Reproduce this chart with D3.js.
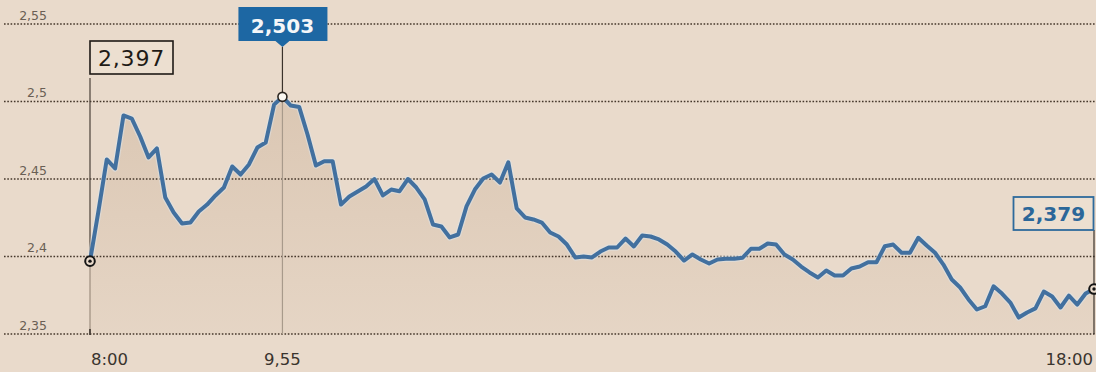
<!DOCTYPE html>
<meta charset="utf-8">
<style>
    html, body { margin: 0; padding: 0; background: #e9dacb; }
    svg { display: block; }
    text { font-family: "DejaVu Sans", sans-serif; }
    .grid line { stroke: #45372b; stroke-width: 1.7; stroke-dasharray: 1.6,1.7; }
    .ytick { font-size: 12.5px; fill: #6a5f55; }
    .xtick { font-size: 16.5px; fill: #3a342e; }
</style>
<body>
<svg width="1096" height="372"></svg>
</body>
<script src="https://cdnjs.cloudflare.com/ajax/libs/d3/7.8.5/d3.min.js"></script>
<script>
    // price every 5 minutes, 8:00 -> 18:00
    const values = [
        2.397, 2.429, 2.4626, 2.4568, 2.491, 2.489, 2.4774, 2.4639, 2.4697, 2.438,
        2.4284, 2.4213, 2.4219, 2.429, 2.4335, 2.4394, 2.4445, 2.4581, 2.4529, 2.4594,
        2.4703, 2.4735, 2.498, 2.503, 2.4974, 2.4965, 2.4787, 2.4587, 2.4615, 2.4615,
        2.4335, 2.4387, 2.4419, 2.4452, 2.45, 2.4394, 2.4432, 2.4421, 2.45, 2.4445,
        2.4368, 2.4206, 2.4194, 2.4123, 2.4142, 2.4323, 2.4432, 2.4503, 2.4529, 2.4477,
        2.4608, 2.431, 2.4252, 2.4239, 2.4219, 2.4155, 2.4129, 2.4077, 2.3994, 2.4,
        2.3994, 2.4032, 2.4058, 2.4058, 2.4116, 2.4065, 2.4135, 2.4129, 2.411, 2.4077,
        2.4032, 2.3974, 2.4013, 2.3981, 2.3955, 2.3981, 2.3985, 2.3985, 2.3992, 2.405,
        2.405, 2.4084, 2.4077, 2.4013, 2.3981, 2.3935, 2.3897, 2.3865, 2.391, 2.3877,
        2.3877, 2.3923, 2.3935, 2.3963, 2.3963, 2.4066, 2.4077, 2.4024, 2.4024, 2.4121,
        2.4071, 2.4024, 2.3948, 2.3852, 2.38, 2.3723, 2.3658, 2.3679, 2.3808, 2.3761,
        2.3703, 2.3606, 2.3639, 2.3665, 2.3774, 2.3742, 2.3671, 2.3748, 2.369, 2.3761,
        2.379
    ];
    const stepMinutes = 5;
    const minutes = values.map((v, i) => i * stepMinutes); // minutes after 8:00

    const yTicks = [2.35, 2.4, 2.45, 2.5, 2.55];
    const yTickLabels = ["2,35", "2,4", "2,45", "2,5", "2,55"];
    const xTicks = [0, 115, 600];
    const xTickLabels = ["8:00", "9,55", "18:00"];

    const startLabel = "2,397", peakLabel = "2,503", endLabel = "2,379";

    const svg = d3.select("svg");
    const x = d3.scaleLinear().domain([0, 600]).range([90, 1094]);
    const y = d3.scaleLinear().domain([2.35, 2.55]).range([334, 24]);

    const data = values.map((v, i) => ({t: minutes[i], v: v}));
    const peakIdx = d3.maxIndex(values);
    const first = data[0], peak = data[peakIdx], last = data[data.length - 1];

    const defs = svg.append("defs");
    const grad = defs.append("linearGradient")
        .attr("id", "areaGrad")
        .attr("gradientUnits", "userSpaceOnUse")
        .attr("x1", 0).attr("x2", 0)
        .attr("y1", y(2.51)).attr("y2", y(2.35));
    grad.append("stop").attr("offset", 0).attr("stop-color", "#a07850").attr("stop-opacity", 0.2);
    grad.append("stop").attr("offset", 1).attr("stop-color", "#a07850").attr("stop-opacity", 0.05);

    // area under the line
    svg.append("path")
        .datum(data)
        .attr("fill", "url(#areaGrad)")
        .attr("d", d3.area().x(d => x(d.t)).y0(y(2.35)).y1(d => y(d.v)));

    // dotted gridlines
    svg.append("g").attr("class", "grid")
        .selectAll("line")
        .data(yTicks)
        .enter().append("line")
        .attr("x1", 4).attr("x2", 1096)
        .attr("y1", d => y(d)).attr("y2", d => y(d));

    svg.append("g")
        .selectAll("text")
        .data(yTicks)
        .enter().append("text")
        .attr("class", "ytick")
        .attr("x", 47)
        .attr("y", d => y(d) - 4.5)
        .attr("text-anchor", "end")
        .text((d, i) => yTickLabels[i]);

    // x labels
    const anchors = ["start", "middle", "end"];
    svg.append("g")
        .selectAll("text")
        .data(xTicks)
        .enter().append("text")
        .attr("class", "xtick")
        .attr("x", (d, i) => x(d) + (i === 0 ? 1 : i === 2 ? -1 : 0))
        .attr("y", 365)
        .attr("text-anchor", (d, i) => anchors[i])
        .text((d, i) => xTickLabels[i]);

    // vertical guide lines
    const guides = svg.append("g");
    // start
    guides.append("line").attr("x1", x(first.t)).attr("x2", x(first.t))
        .attr("y1", 78).attr("y2", y(first.v)).attr("stroke", "#4a4038").attr("stroke-width", 1.2);
    guides.append("line").attr("x1", x(first.t)).attr("x2", x(first.t))
        .attr("y1", y(first.v)).attr("y2", y(2.35)).attr("stroke", "#9d8e7f").attr("stroke-width", 1.2);
    guides.append("line").attr("x1", x(first.t)).attr("x2", x(first.t))
        .attr("y1", y(2.35) - 5).attr("y2", y(2.35) + 1).attr("stroke", "#3a322b").attr("stroke-width", 1.6);
    // peak
    guides.append("line").attr("x1", x(peak.t)).attr("x2", x(peak.t))
        .attr("y1", 47).attr("y2", y(peak.v)).attr("stroke", "#3a322b").attr("stroke-width", 1.2);
    guides.append("line").attr("x1", x(peak.t)).attr("x2", x(peak.t))
        .attr("y1", y(peak.v)).attr("y2", y(2.35)).attr("stroke", "#a89a8b").attr("stroke-width", 1.2);
    // end
    guides.append("line").attr("x1", x(last.t)).attr("x2", x(last.t))
        .attr("y1", 230).attr("y2", y(2.35)).attr("stroke", "#3a322b").attr("stroke-width", 1.2);

    // price line
    const line = d3.line().x(d => x(d.t)).y(d => y(d.v));
    svg.append("path")
        .datum(data)
        .attr("fill", "none")
        .attr("stroke", "rgba(220,230,240,0.45)")
        .attr("stroke-width", 6.5)
        .attr("stroke-linejoin", "round")
        .attr("d", line);
    svg.append("path")
        .datum(data)
        .attr("fill", "none")
        .attr("stroke", "#42709f")
        .attr("stroke-width", 4)
        .attr("stroke-linejoin", "round")
        .attr("d", line);

    // markers
    function target(d) {
        svg.append("circle").attr("cx", x(d.t)).attr("cy", y(d.v)).attr("r", 4.8)
            .attr("fill", "#e9dacb").attr("stroke", "#151515").attr("stroke-width", 2);
        svg.append("circle").attr("cx", x(d.t)).attr("cy", y(d.v)).attr("r", 1.7)
            .attr("fill", "#151515");
    }
    target(first);
    target(last);
    svg.append("circle").attr("cx", x(peak.t)).attr("cy", y(peak.v)).attr("r", 4.5)
        .attr("fill", "#fbf8f2").attr("stroke", "#2a2520").attr("stroke-width", 1.6);

    // callouts
    svg.append("rect").attr("x", 90).attr("y", 41).attr("width", 83).attr("height", 33)
        .attr("fill", "#ecdfd0").attr("stroke", "#1e1a16").attr("stroke-width", 1.6);
    svg.append("text").attr("x", 131.5).attr("y", 66).attr("text-anchor", "middle")
        .attr("font-size", 22).attr("letter-spacing", 0.8).attr("fill", "#1e1a16")
        .text(startLabel);

    const px = x(peak.t);
    svg.append("path")
        .attr("d", `M${px - 44},7 H${px + 45} V41 H${px + 7} L${px},47 L${px - 7},41 H${px - 44} Z`)
        .attr("fill", "#1d67a3");
    svg.append("text").attr("x", px).attr("y", 33).attr("text-anchor", "middle")
        .attr("font-size", 20).attr("font-weight", "bold").attr("fill", "#f4f6f8")
        .text(peakLabel);

    svg.append("rect").attr("x", 1013.5).attr("y", 197).attr("width", 80).attr("height", 33)
        .attr("fill", "#ecdfd0").attr("stroke", "#2e6a9c").attr("stroke-width", 1.8);
    svg.append("text").attr("x", 1053.5).attr("y", 221).attr("text-anchor", "middle")
        .attr("font-size", 20).attr("font-weight", "bold").attr("fill", "#2b6799")
        .text(endLabel);
</script>
